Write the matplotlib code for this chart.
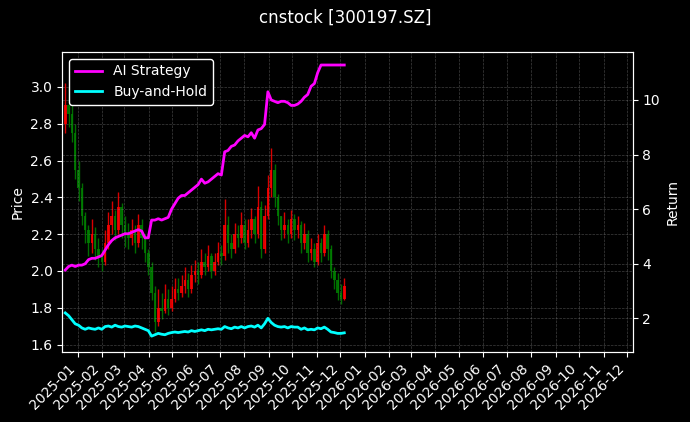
import numpy as np
import pandas as pd
import matplotlib
matplotlib.use("Agg")
import matplotlib.pyplot as plt
import matplotlib.dates as mdates

close = [2.90, 2.85, 2.75, 2.55, 2.45, 2.30, 2.22, 2.15, 2.20, 2.12,
         2.08, 2.05, 2.15, 2.25, 2.30, 2.22, 2.35, 2.25, 2.20, 2.18,
         2.22, 2.15, 2.25, 2.18, 2.10, 2.02, 1.88, 1.72, 1.80, 1.78,
         1.85, 1.80, 1.85, 1.90, 1.88, 1.92, 1.95, 1.90, 1.98, 2.00,
         1.98, 2.05, 2.02, 2.08, 2.00, 2.05, 2.10, 2.08, 2.25, 2.15,
         2.12, 2.20, 2.18, 2.25, 2.15, 2.22, 2.28, 2.20, 2.35, 2.12,
         2.30, 2.45, 2.55, 2.40, 2.30, 2.22, 2.25, 2.20, 2.28, 2.22,
         2.25, 2.15, 2.20, 2.10, 2.12, 2.05, 2.15, 2.10, 2.20, 2.12,
         2.00, 1.95, 1.88, 1.85, 1.92]
high = [3.02, 3.00, 2.90, 2.80, 2.60, 2.48, 2.32, 2.25, 2.28, 2.24,
        2.18, 2.12, 2.22, 2.32, 2.38, 2.33, 2.43, 2.37, 2.30, 2.26,
        2.28, 2.25, 2.31, 2.28, 2.20, 2.12, 2.05, 1.92, 1.90, 1.88,
        1.93, 1.90, 1.92, 1.96, 1.96, 1.98, 2.02, 1.99, 2.03, 2.06,
        2.05, 2.12, 2.10, 2.14, 2.10, 2.10, 2.16, 2.14, 2.39, 2.30,
        2.20, 2.26, 2.25, 2.32, 2.28, 2.28, 2.34, 2.30, 2.46, 2.38,
        2.36, 2.52, 2.67, 2.58, 2.42, 2.30, 2.32, 2.28, 2.33, 2.31,
        2.30, 2.27, 2.26, 2.22, 2.18, 2.15, 2.20, 2.18, 2.25, 2.22,
        2.14, 2.02, 1.99, 1.93, 1.96]
low = [2.75, 2.78, 2.70, 2.50, 2.38, 2.25, 2.15, 2.08, 2.10, 2.06,
       2.02, 2.00, 2.03, 2.12, 2.20, 2.17, 2.20, 2.18, 2.13, 2.12,
       2.14, 2.10, 2.13, 2.12, 2.05, 1.98, 1.84, 1.67, 1.70, 1.74,
       1.77, 1.76, 1.78, 1.83, 1.84, 1.86, 1.88, 1.86, 1.88, 1.94,
       1.93, 1.96, 1.98, 2.00, 1.96, 1.98, 2.03, 2.03, 2.06, 2.10,
       2.07, 2.10, 2.13, 2.15, 2.12, 2.13, 2.18, 2.15, 2.18, 2.07,
       2.10, 2.28, 2.40, 2.35, 2.25, 2.17, 2.18, 2.15, 2.18, 2.17,
       2.18, 2.10, 2.12, 2.05, 2.06, 2.02, 2.03, 2.05, 2.08, 2.06,
       1.96, 1.90, 1.84, 1.82, 1.84]
ai_return = [3.77, 3.90, 3.95, 3.90, 3.95, 3.95, 4.00, 4.15, 4.20, 4.20,
             4.25, 4.30, 4.50, 4.70, 4.85, 4.95, 5.00, 5.05, 5.10, 5.10,
             5.15, 5.20, 5.25, 5.20, 4.95, 4.95, 5.60, 5.60, 5.65, 5.60,
             5.65, 5.70, 6.00, 6.20, 6.40, 6.50, 6.50, 6.60, 6.70, 6.80,
             6.90, 7.10, 6.95, 7.00, 7.10, 7.20, 7.30, 7.25, 8.10, 8.15,
             8.30, 8.35, 8.50, 8.60, 8.70, 8.65, 8.80, 8.60, 8.90, 8.95,
             9.10, 10.30, 10.00, 9.95, 9.90, 9.95, 9.95, 9.90, 9.80, 9.80,
             9.85, 9.95, 10.10, 10.20, 10.50, 10.60, 11.00, 11.28, 11.28, 11.28,
             11.28, 11.28, 11.28, 11.28, 11.28]
bh_return = [2.20, 2.10, 1.95, 1.80, 1.75, 1.65, 1.60, 1.65, 1.62, 1.60,
             1.65, 1.60, 1.70, 1.72, 1.68, 1.75, 1.70, 1.68, 1.72, 1.70,
             1.68, 1.72, 1.70, 1.65, 1.60, 1.55, 1.35, 1.40, 1.45, 1.42,
             1.40, 1.45, 1.48, 1.50, 1.48, 1.50, 1.52, 1.50, 1.55, 1.52,
             1.55, 1.58, 1.55, 1.60, 1.58, 1.60, 1.62, 1.60, 1.70, 1.65,
             1.62, 1.68, 1.65, 1.70, 1.65, 1.70, 1.72, 1.68, 1.75, 1.65,
             1.80, 2.00, 1.85, 1.75, 1.70, 1.68, 1.70, 1.65, 1.70, 1.68,
             1.68, 1.60, 1.65, 1.58, 1.60, 1.58, 1.65, 1.62, 1.68, 1.60,
             1.50, 1.48, 1.45, 1.45, 1.47]

dates = pd.date_range("2024-12-16", "2025-12-06", periods=len(close))
opens = [2.80] + close[:-1]

plt.style.use("dark_background")
fig, ax = plt.subplots(figsize=(6.9, 4.22), dpi=100)
fig.subplots_adjust(left=0.09, right=0.917, top=0.877, bottom=0.166)

cols = ["red" if c >= o else "green" for o, c in zip(opens, close)]
ax.vlines(dates, low, high, colors=cols, linewidth=1.0, alpha=0.85)
body_bottom = np.minimum(opens, close)
body_h = np.abs(np.array(close) - np.array(opens))
ax.bar(dates, body_h, bottom=body_bottom, width=3.2, color=cols, alpha=0.85)
ax.set_ylim(1.56, 3.19)
ax.set_ylabel("Price")
ax.grid(True, linestyle="--", linewidth=0.5, color="gray", alpha=0.5)

ax2 = ax.twinx()
ax2.plot(dates, ai_return, color="magenta", linewidth=2, label="AI Strategy")
ax2.plot(dates, bh_return, color="cyan", linewidth=2, label="Buy-and-Hold")
ax2.set_ylim(0.77, 11.76)
ax2.set_ylabel("Return")
ax2.grid(True, linestyle="--", linewidth=0.5, color="gray", alpha=0.5)
ax2.legend(loc="upper left", facecolor="black", edgecolor="white", framealpha=1)

ax.set_xlim(pd.Timestamp("2024-12-12"), pd.Timestamp("2026-12-08"))
ax.xaxis.set_major_locator(mdates.MonthLocator())
ax.xaxis.set_major_formatter(mdates.DateFormatter("%Y-%m"))
plt.setp(ax.get_xticklabels(), rotation=45, ha="right")

fig.suptitle("cnstock [300197.SZ]")
fig.savefig("out.png", dpi=100, facecolor="black")
